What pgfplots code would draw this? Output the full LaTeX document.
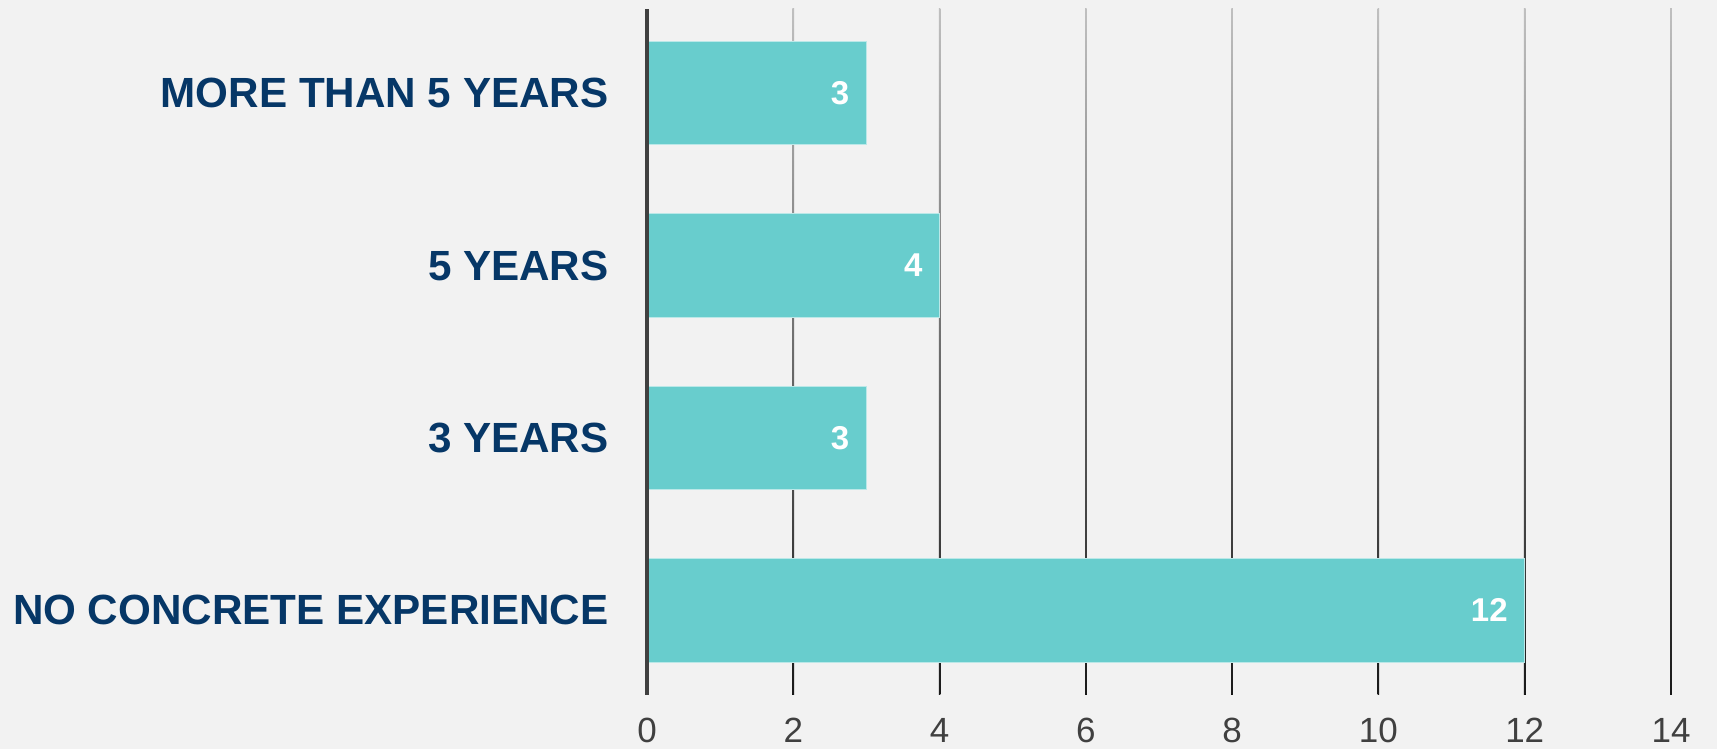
\documentclass[border=0pt]{standalone}
\usepackage{pgfplots}
\pgfplotsset{compat=1.18}
\usepackage{fontspec}
\setmainfont{Liberation Sans}
\definecolor{bg}{HTML}{F2F2F2}
\definecolor{barc}{HTML}{68CDCD}
\definecolor{navy}{HTML}{063767}
\definecolor{tickc}{HTML}{404040}
\begin{document}
\begin{tikzpicture}
\fill[bg] (-323.5pt,-27pt) rectangle (535pt,347.4pt);
\useasboundingbox (-323.5pt,-27pt) rectangle (535pt,347.4pt);
\begin{axis}[
  at={(0,0)}, anchor=south west,
  scale only axis, width=512pt, height=343pt,
  xmin=0, xmax=14, ymin=-0.49, ymax=3.49,
  xbar, bar width=0.6,
  axis line style={draw=none},
  major tick length=0pt,
  xtick={0,2,4,6,8,10,12,14},
  ytick={0,1,2,3},
  yticklabels={NO CONCRETE EXPERIENCE,3 YEARS,5 YEARS,MORE THAN 5 YEARS},
  /pgf/number format/assume math mode=true,
  xticklabel style={font=\fontsize{17.5}{20}\selectfont, color=tickc, inner sep=0pt, anchor=north, yshift=-11.5pt},
  yticklabel style={font=\bfseries\fontsize{21.1}{25}\selectfont, color=navy, inner sep=0pt, anchor=east, xshift=-19pt},
  point meta=x,
  nodes near coords,
  nodes near coords style={font=\bfseries\fontsize{16.5}{18}\selectfont, color=white, inner sep=0pt, anchor=east, xshift=-8.3pt},
  clip=false,
]
\pgfplotsinvokeforeach{2,4,6,8,10,12,14}{
  \fill[top color=black!25, bottom color=black!90] (axis cs:#1-0.011,-0.49) rectangle (axis cs:#1+0.011,3.49);
}
\addplot[fill=barc, draw=white!55!barc, line width=0.5pt] coordinates {(12,0) (3,1) (4,2) (3,3)};
\draw[tickc, line width=1.6pt] (axis cs:0,-0.49) -- (axis cs:0,3.49);
\end{axis}
\end{tikzpicture}
\end{document}
